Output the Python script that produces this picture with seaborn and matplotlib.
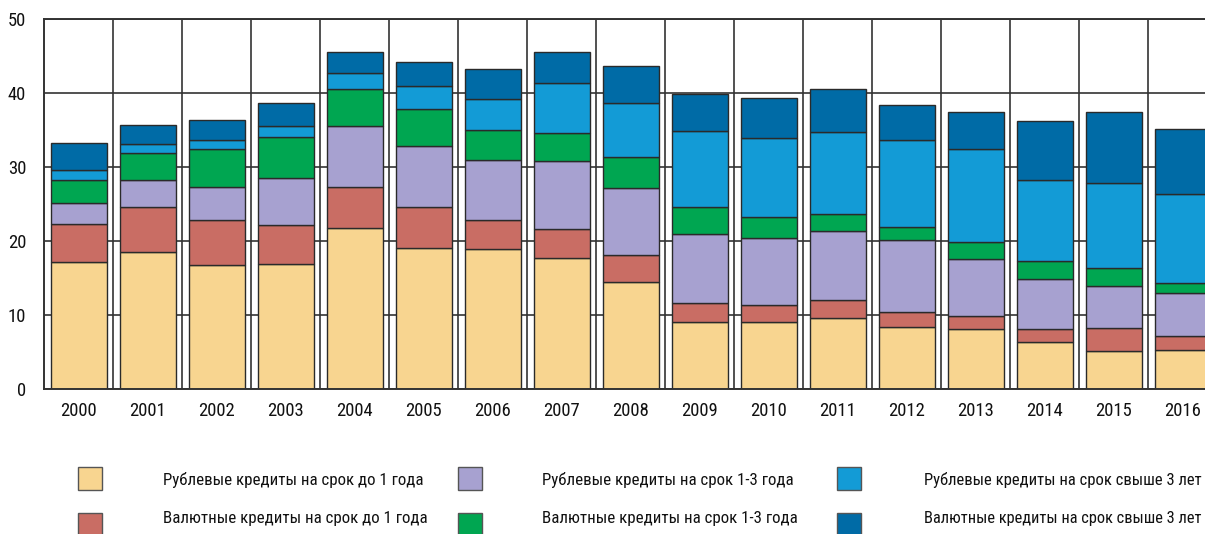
import matplotlib
matplotlib.use('Agg')
import matplotlib.pyplot as plt
import seaborn as sns
from matplotlib.patches import Rectangle

years = ['2000', '2001', '2002', '2003', '2004', '2005', '2006', '2007', '2008',
         '2009', '2010', '2011', '2012', '2013', '2014', '2015', '2016']

rub_short = [17.1, 18.5, 16.7, 16.9, 21.7, 19.0, 18.9, 17.7, 14.4, 9.1, 9.1, 9.6, 8.4, 8.1, 6.3, 5.1, 5.3]
cur_short = [5.2, 6.1, 6.2, 5.2, 5.6, 5.6, 4.0, 3.9, 3.7, 2.5, 2.2, 2.4, 2.0, 1.7, 1.8, 3.1, 1.8]
rub_mid = [2.9, 3.6, 4.4, 6.4, 8.3, 8.3, 8.1, 9.2, 9.1, 9.3, 9.1, 9.3, 9.7, 7.8, 6.8, 5.7, 5.9]
cur_mid = [3.1, 3.7, 5.1, 5.6, 4.9, 5.0, 4.0, 3.8, 4.2, 3.7, 2.9, 2.3, 1.8, 2.3, 2.4, 2.5, 1.3]
rub_long = [1.3, 1.2, 1.3, 1.4, 2.2, 3.0, 4.2, 6.8, 7.2, 10.3, 10.6, 11.1, 11.7, 12.5, 11.0, 11.4, 12.1]
cur_long = [3.7, 2.6, 2.7, 3.1, 2.8, 3.3, 4.0, 4.2, 5.0, 5.0, 5.4, 5.8, 4.8, 5.1, 7.9, 9.6, 8.7]

series_labels = ['Рублевые кредиты на срок до 1 года',
                 'Валютные кредиты на срок до 1 года',
                 'Рублевые кредиты на срок 1-3 года',
                 'Валютные кредиты на срок 1-3 года',
                 'Рублевые кредиты на срок свыше 3 лет',
                 'Валютные кредиты на срок свыше 3 лет']
series_values = [rub_short, cur_short, rub_mid, cur_mid, rub_long, cur_long]
colors = ['#F8D590', '#C96D64', '#A7A1D0', '#00A651', '#139BD6', '#006BA6']

sns.set_style('white')
plt.rcParams['font.family'] = ['Roboto Condensed', 'Fira Sans Extra Condensed', 'DejaVu Sans']

W, H = 1205, 534
fig = plt.figure(figsize=(W / 100, H / 100), dpi=100)
renderer = fig.canvas.get_renderer()


def fit_size(text, target_px, base=16):
    """font size that makes text about target_px wide"""
    t = fig.text(0, 0, text, fontsize=base)
    w = t.get_window_extent(renderer).width
    t.remove()
    return base * target_px / w


tick_fs = fit_size('2000', 37)
leg_fs = fit_size(series_labels[0], 260)

ax = fig.add_axes([44.3 / W, 145 / H, 1173 / W, 370 / H])
ax.set_axisbelow(True)

bottom = [0.0] * len(years)
for vals, col in zip(series_values, colors):
    sns.barplot(x=years, y=vals, bottom=bottom, color=col, width=0.82,
                edgecolor='#2a2a2a', linewidth=1, saturation=1, ax=ax)
    bottom = [b + v for b, v in zip(bottom, vals)]

ax.set_xlim(-0.5, len(years) - 0.5)
ax.set_ylim(0, 50)
ax.set_yticks(range(0, 51, 10))
ax.set_xticks([i + 0.5 for i in range(len(years) - 1)], minor=True)
ax.grid(True, axis='y', which='major', color='#333333', linewidth=1.2)
ax.grid(True, axis='x', which='minor', color='#333333', linewidth=1.2)
ax.grid(False, axis='x', which='major')
ax.tick_params(axis='both', which='both', length=0, labelsize=tick_fs, colors='#111111')
ax.tick_params(axis='y', pad=13)
ax.tick_params(axis='x', pad=9)
ax.set_xlabel('')
ax.set_ylabel('')
for side in ['left', 'bottom', 'top']:
    ax.spines[side].set_color('#333333')
    ax.spines[side].set_linewidth(1.4)
ax.spines['right'].set_visible(False)

# legend: 3 columns x 2 rows
sq_x = [78, 458, 837]
sq_y = [467, 512.5]
text_x = [163, 542, 924]
text_base = [484.5, 523.5]
for i, (lab, col) in enumerate(zip(series_labels, colors)):
    c, r = i // 2, i % 2
    fig.add_artist(Rectangle((sq_x[c] / W, 1 - (sq_y[r] + 23) / H), 24 / W, 23 / H,
                             facecolor=col, edgecolor='#555555', linewidth=1,
                             transform=fig.transFigure))
    fs = leg_fs
    room = W - 3 - text_x[c]
    need = fit_size(lab, room)
    if need < fs:
        fs = need
    fig.text(text_x[c] / W, 1 - text_base[r] / H, lab, fontsize=fs, color='#111111',
             va='baseline', ha='left')

fig.savefig('out.png', dpi=100)
